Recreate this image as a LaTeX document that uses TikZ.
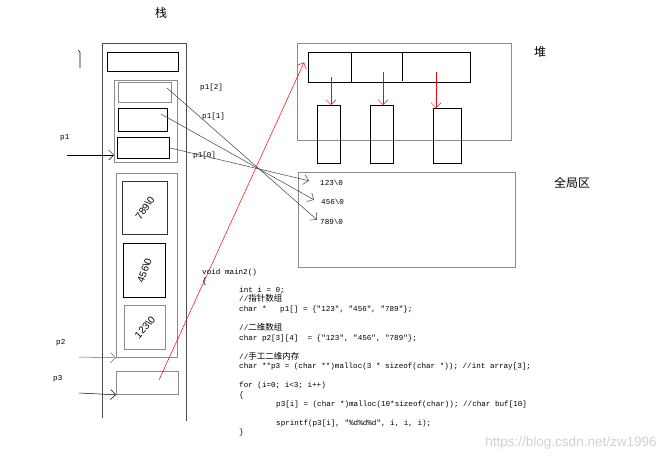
\documentclass[tikz,border=0pt]{standalone}
\usepackage{fontspec}
\setmainfont{Liberation Serif}
\newfontfamily\codefont{Liberation Mono}
\newfontfamily\cjk{Noto Sans CJK SC}
\newfontfamily\wmfont{Liberation Sans}
\usetikzlibrary{arrows.meta}

\begin{document}
\begin{tikzpicture}[x=1pt, y=-1pt,
  box/.style={draw, inner sep=0pt, anchor=north west, line width=0.8pt},
  greybox/.style={box, draw=black!45},
  lbl/.style={font=\codefont\fontsize{7.6}{9}\selectfont, inner sep=0pt, anchor=base west},
  hand/.style={font=\wmfont\fontsize{10}{10}\selectfont, inner sep=0pt},
  title/.style={font=\cjk\fontsize{12}{12}\selectfont, inner sep=0pt},
  ptr/.style={-{Straight Barb[length=5pt, width=10pt]}, line width=0.5pt},
  redptr/.style={ptr, red}]
\useasboundingbox (0,0) rectangle (669,461);

% stack
\node (stack) [title] at (161,13) {栈};
\draw[black!70, line width=0.8pt] (102,418) -- (102,43) -- (186,43) -- (186,421);
\draw[line width=0.6pt] (78,50) -- (80,52) -- (80,68);
\node (top)   [box, minimum width=71pt, minimum height=19pt] at (107,52) {};
\node (p1grp) [greybox, minimum width=63pt, minimum height=82pt] at (114,80) {};
\node (p1c)   [greybox, minimum width=53pt, minimum height=20pt] at (118,82) {};
\node (p1b)   [box, minimum width=49pt, minimum height=23pt] at (118,108) {};
\node (p1a)   [box, minimum width=52pt, minimum height=21pt] at (117,137) {};
\node (p2grp) [greybox, minimum width=61pt, minimum height=184pt] at (116,173) {};
\node (s789)  [box, draw=black!80, minimum width=45pt, minimum height=53pt] at (122,181) {};
\node (s456)  [box, minimum width=42pt, minimum height=54pt] at (123,243) {};
\node (s123)  [greybox, minimum width=41pt, minimum height=44pt] at (124,305) {};
\node (p3box) [greybox, minimum width=62pt, minimum height=23pt] at (116,371) {};

\node (h789) [hand, rotate=55] at (s789.center) {789\textbackslash0};
\node (h456) [hand, rotate=70] at (s456.center) {456\textbackslash0};
\node (h123) [hand, rotate=48] at (s123.center) {123\textbackslash0};

% pointers on the left
\node (lp1) [lbl] at (60,139.5) {p1};
\node (lp2) [lbl] at (56,344.5) {p2};
\node (lp3) [lbl] at (53,380.5) {p3};
\coordinate (p1tail) at (67,155);
\coordinate (p2tail) at (79,357);
\coordinate (p3tail) at (79,393);
\draw[ptr] (p1tail) -- (p1grp.west |- p1tail);
\draw[ptr, black!60] (p2tail) -- (p2grp.south west);
\draw[ptr] (p3tail) -- (p3box.south west);

\node (lc) [lbl] at (200,89.5) {p1[2]};
\node (lb) [lbl] at (202,118.5) {p1[1]};
\node (la) [lbl] at (193,157.5) {p1[0]};

% heap
\node (heap) [title] at (540,52) {堆};
\node (heapbox) [greybox, minimum width=214pt, minimum height=97pt] at (297,43) {};
\node (harr) [box, minimum width=162pt, minimum height=30pt] at (308,52) {};
\draw[line width=0.8pt] ([xshift=43pt]harr.north west) -- ([xshift=43pt]harr.south west);
\draw[line width=0.8pt] ([xshift=94pt]harr.north west) -- ([xshift=94pt, yshift=2pt]harr.south west);
\node (m1) [box, minimum width=23pt, minimum height=58pt] at (317,105) {};
\node (m2) [box, minimum width=23pt, minimum height=58pt] at (370,105) {};
\node (m3) [box, minimum width=28pt, minimum height=55pt] at (433,108) {};
\coordinate (r1) at (331,77);
\coordinate (r2) at (383,72);
\coordinate (r3) at (436,72);
\draw[redptr] (r1) -- (r1 |- m1.north);
\draw[redptr] (r2) -- (r2 |- m2.north);
\draw[redptr] (r3) -- (r3 |- m3.north);

% global area
\node (glob) [title] at (572,183) {全局区};
\node (globbox) [greybox, minimum width=217pt, minimum height=95pt] at (298,172) {};
\node (t123) [lbl] at (320,185.5) {123\textbackslash0};
\node (t456) [lbl] at (321,204.5) {456\textbackslash0};
\node (t789) [lbl] at (320,224.5) {789\textbackslash0};

\coordinate (c2) at (167,88);
\coordinate (c1) at (161,114);
\draw[ptr, black!75] (p1a.east) -- ([xshift=-11pt, yshift=2pt]t123.west);
\draw[ptr, black!75] (c1) -- ([xshift=-7pt, yshift=2pt]t456.west);
\draw[ptr, black!75] (c2) -- ([xshift=-3pt, yshift=2pt]t789.west);

% p3 into the heap
\coordinate (p3ptr) at (159,380);
\draw[redptr] (p3ptr) -- ([xshift=-4pt, yshift=5pt]harr.west);

% code
\node (l0)  [lbl] at (202,274.5) {void main2()};
\node (l1)  [lbl] at (202,283.5) {\{};
\node (l2)  [lbl] at (239,292.5) {int i = 0;};
\node (l3)  [lbl] at (239,301.5) {//{\cjk\fontsize{8.5}{9}\selectfont 指针数组}};
\node (l4)  [lbl] at (239,311.5) {char *\ \ \ p1[] = \{"123", "456", "789"\};};
\node (l5)  [lbl] at (239,330.5) {//{\cjk\fontsize{8.5}{9}\selectfont 二维数组}};
\node (l6)  [lbl] at (239,340.5) {char p2[3][4]\ \ = \{"123", "456", "789"\};};
\node (l7)  [lbl] at (239,359.5) {//{\cjk\fontsize{8.5}{9}\selectfont 手工二维内存}};
\node (l8)  [lbl] at (239,368.5) {char **p3 = (char **)malloc(3 * sizeof(char *)); //int array[3];};
\node (l9)  [lbl] at (239,387.5) {for (i=0; i<3; i++)};
\node (l10) [lbl] at (239,397.5) {\{};
\node (l11) [lbl] at (276,406.5) {p3[i] = (char *)malloc(10*sizeof(char)); //char buf[10]};
\node (l12) [lbl] at (276,425.5) {sprintf(p3[i], "\%d\%d\%d", i, i, i);};
\node (l13) [lbl] at (239,434.5) {\}};

\node (wm) [font=\wmfont\fontsize{13.5}{14}\selectfont, text=black!18, inner sep=0pt] at (571,443) {https://blog.csdn.net/zw1996};
\end{tikzpicture}
\end{document}
